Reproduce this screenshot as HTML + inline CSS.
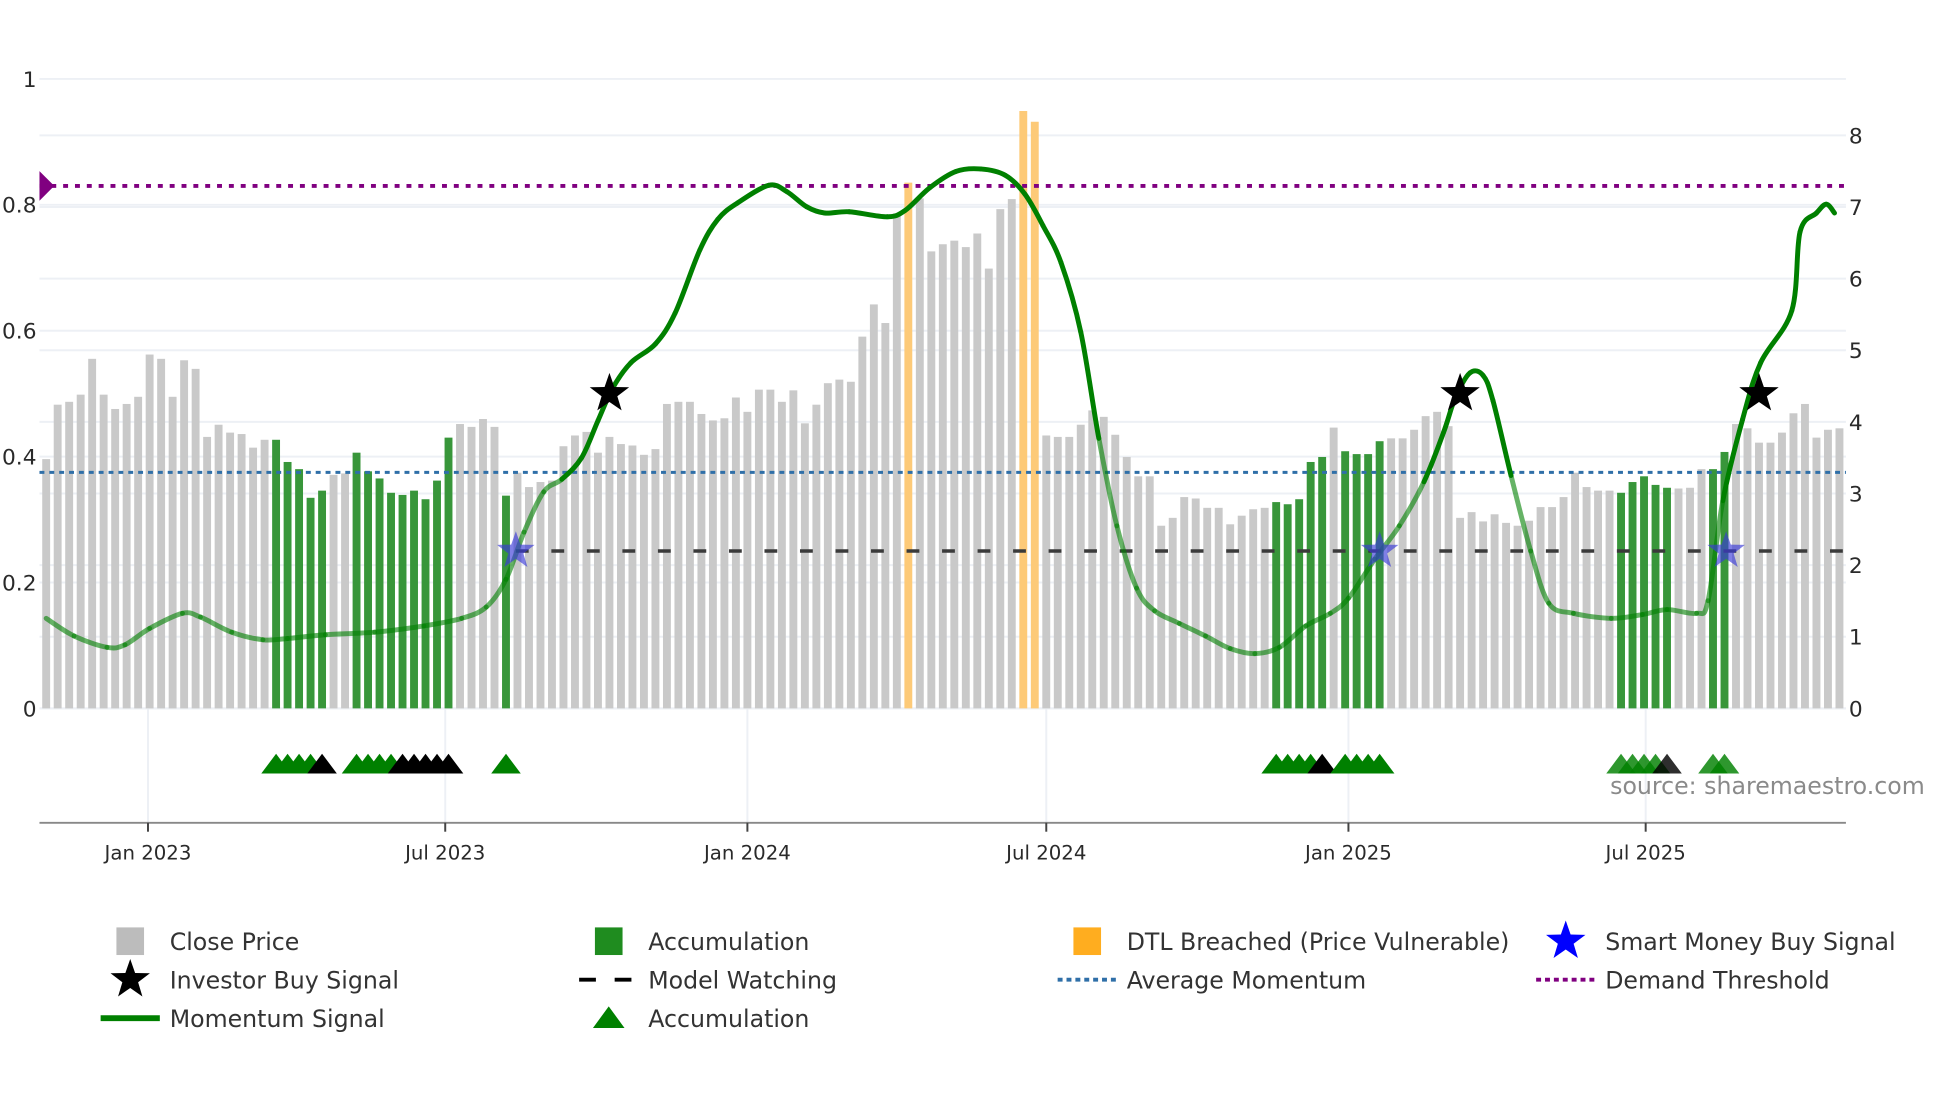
<!DOCTYPE html>
<html><head><meta charset="utf-8">
<style>
html,body{margin:0;padding:0;background:#fff;}
svg{display:block;font-family:"DejaVu Sans","Liberation Sans",sans-serif;}
</style></head>
<body>
<svg id="chart" width="1960" height="1102" viewBox="0 0 1960 1102" xmlns="http://www.w3.org/2000/svg">
<g transform="scale(0.9866)">
<g id="grid"></g>
<g id="bars"></g>
<g id="lines"></g>
<g id="marks"></g>
<g id="axes"></g>
<text x="1632" y="805" font-size="24" fill="#8a8a8a">source: sharemaestro.com</text>
<g id="legend"></g>
</g>
</svg>
<script>
// ---- data ----
const barStart = "2022-10-31"; // weekly bars
const closePrices = [3.48,4.24,4.28,4.38,4.88,4.38,4.18,4.25,4.35,4.94,4.88,4.35,4.86,4.74,3.79,3.96,3.85,3.83,3.64,3.75,
3.75,3.44,3.34,2.94,3.04,3.26,3.28,3.57,3.31,3.21,3.01,2.98,3.04,2.92,3.18,3.78,3.97,3.93,4.04,3.93,
2.97,3.29,3.09,3.16,3.18,3.66,3.81,3.86,3.57,3.79,3.69,3.67,3.54,3.62,4.25,4.28,4.28,4.11,4.02,4.05,
4.34,4.14,4.45,4.45,4.28,4.44,3.98,4.24,4.54,4.59,4.56,5.19,5.64,5.38,6.91,7.34,7.12,6.38,6.48,6.53,
6.44,6.63,6.14,6.97,7.11,8.34,8.19,3.81,3.79,3.79,3.96,4.16,4.07,3.82,3.51,3.24,3.24,2.55,2.66,2.95,
2.93,2.80,2.80,2.57,2.69,2.78,2.80,2.88,2.85,2.92,3.44,3.51,3.92,3.59,3.55,3.55,3.73,3.77,3.77,3.89,
4.08,4.14,3.94,2.66,2.74,2.61,2.71,2.59,2.55,2.62,2.81,2.81,2.95,3.29,3.09,3.04,3.04,3.01,3.16,3.24,
3.12,3.08,3.07,3.08,3.34,3.34,3.58,3.97,3.91,3.71,3.71,3.85,4.12,4.25,3.78,3.89,3.91];
// 1-based bar numbers
const accumulationBars = [21,22,23,24,25,28,29,30,31,32,33,34,35,36,41,108,109,110,111,112,114,115,116,117,138,139,140,141,142,146,147];
const dtlBreachedBars = [76,86,87];
const blackTriangleBars = [25,32,33,34,35,36,112,142];
const momDates = ["2022-10-31","2022-11-17","2022-12-07","2022-12-18","2023-01-02","2023-01-22","2023-02-02","2023-02-21","2023-03-12","2023-03-27","2023-04-19","2023-05-19","2023-06-18","2023-07-11","2023-07-26","2023-08-07","2023-08-18","2023-08-30","2023-09-10","2023-09-22","2023-10-02","2023-10-11","2023-10-22","2023-11-06","2023-11-18","2023-12-03","2023-12-14","2023-12-26","2024-01-14","2024-01-25","2024-02-06","2024-02-17","2024-03-03","2024-03-26","2024-04-06","2024-04-21","2024-05-07","2024-05-22","2024-06-06","2024-06-18","2024-06-29","2024-07-10","2024-07-22","2024-08-02","2024-08-13","2024-08-25","2024-09-05","2024-09-20","2024-10-06","2024-10-21","2024-11-05","2024-11-20","2024-12-06","2024-12-21","2025-01-01","2025-01-17","2025-02-01","2025-02-16","2025-02-28","2025-03-07","2025-03-16","2025-03-24","2025-03-30","2025-04-10","2025-04-22","2025-05-03","2025-05-18","2025-06-10","2025-06-29","2025-07-14","2025-08-01","2025-08-08","2025-08-17","2025-08-29","2025-09-09","2025-09-28","2025-10-03","2025-10-13","2025-10-19","2025-10-24"];
const momValues = [0.143,0.115,0.097,0.101,0.127,0.151,0.145,0.121,0.109,0.111,0.117,0.121,0.131,0.143,0.161,0.205,0.28,0.344,0.364,0.398,0.457,0.509,0.549,0.579,0.628,0.728,0.777,0.803,0.831,0.821,0.797,0.787,0.789,0.781,0.791,0.827,0.853,0.857,0.847,0.817,0.767,0.708,0.598,0.429,0.29,0.191,0.155,0.135,0.115,0.095,0.087,0.097,0.131,0.151,0.175,0.237,0.29,0.36,0.439,0.493,0.533,0.529,0.489,0.37,0.25,0.167,0.151,0.143,0.149,0.157,0.151,0.171,0.33,0.459,0.549,0.632,0.757,0.787,0.801,0.787];
const investorBuyDates = ["2023-10-09","2025-03-10","2025-09-08"];
const investorBuyValue = 0.5;
const smartMoneyDates = ["2023-08-13","2025-01-20","2025-08-19"];
const smartMoneyValue = 0.25;
const modelWatchingStart = "2023-08-13";
const modelWatchingValue = 0.25;
const averageMomentum = 0.375;
const demandThreshold = 0.83;
const leftTicks = [0,0.2,0.4,0.6,0.8,1];
const leftTickLabels = ["0","0.2","0.4","0.6","0.8","1"];
const rightTicks = [0,1,2,3,4,5,6,7,8];
const xTickDates = ["2023-01-01","2023-07-01","2024-01-01","2024-07-01","2025-01-01","2025-07-01"];
const xTickLabels = ["Jan 2023","Jul 2023","Jan 2024","Jul 2024","Jan 2025","Jul 2025"];

// ---- scales ----
const NS="http://www.w3.org/2000/svg";
const X0=40, X1=1871, BASE=718;
const REF=Date.UTC(2023,0,1);
function days(s){const p=s.split('-');return (Date.UTC(+p[0],+p[1]-1,+p[2])-REF)/86400000;}
function x(s){return 150+days(s)*1.6645;}
function xBar(i){return x(barStart)+i*7*1.6645;}
function yL(v){return BASE-v*638;}
function yR(v){return BASE-v*72.6;}
function el(tag,attrs,parent){const e=document.createElementNS(NS,tag);for(const k in attrs)e.setAttribute(k,attrs[k]);parent.appendChild(e);return e;}
const G=id=>document.getElementById(id);

// grid
rightTicks.forEach(t=>{const l=el('line',{x1:X0,x2:X1,y1:yR(t),y2:yR(t),stroke:'#edf0f5','stroke-width':2},G('grid'));

});
leftTicks.forEach(t=>{const l=el('line',{x1:X0,x2:X1,y1:yL(t),y2:yL(t),stroke:'#edf0f5','stroke-width':2},G('grid'));

});
xTickDates.forEach(d=>{const l=el('line',{x1:x(d),x2:x(d),y1:BASE,y2:834,stroke:'#edf0f5','stroke-width':2},G('grid'));

});

// bars
closePrices.forEach((v,i)=>{const n=i+1;let c='#c9c9c9';
 if(accumulationBars.includes(n))c='#38963a';
 if(dtlBreachedBars.includes(n))c='#fdca78';
 const cx=xBar(i);
 const r=el('rect',{x:cx-4,y:yR(v),width:8,height:BASE-yR(v),fill:c},G('bars'));
 
 
});

// lines
const avg=el('line',{x1:X0,x2:X1,y1:yL(averageMomentum),y2:yL(averageMomentum),stroke:'#2f6fa8','stroke-width':3,'stroke-dasharray':'5 5'},G('lines'));


const dem=el('line',{x1:X0,x2:X1,y1:yL(demandThreshold),y2:yL(demandThreshold),stroke:'#800080','stroke-width':4,'stroke-dasharray':'5 7'},G('lines'));


const mw=el('line',{x1:x(modelWatchingStart),x2:X1,y1:yL(modelWatchingValue),y2:yL(modelWatchingValue),stroke:'#3a3a3a','stroke-width':3.5,'stroke-dasharray':'13 23'},G('lines'));



// momentum line, smooth via catmull-rom, faded below average
const pts=momDates.map((d,i)=>[x(d),yL(momValues[i])]);
for(let i=0;i<pts.length-1;i++){
 const p0=pts[Math.max(0,i-1)],p1=pts[i],p2=pts[i+1],p3=pts[Math.min(pts.length-1,i+2)];
 const c1=[p1[0]+(p2[0]-p0[0])/6,p1[1]+(p2[1]-p0[1])/6],c2=[p2[0]-(p3[0]-p1[0])/6,p2[1]-(p3[1]-p1[1])/6];
 const low=(momValues[i]+momValues[i+1])/2<0.36;
 const p=el('path',{d:`M${p1[0]},${p1[1]}C${c1[0]},${c1[1]} ${c2[0]},${c2[1]} ${p2[0]},${p2[1]}`,fill:'none',stroke:'#008000','stroke-width':5,'stroke-linecap':'round',opacity:low?0.6:1},G('lines'));
 
 
}

function star(cx,cy,R){const r=R*0.4;let d='';for(let k=0;k<10;k++){const a=-Math.PI/2+k*Math.PI/5,rr=k%2?r:R;d+=(k?'L':'M')+(cx+rr*Math.cos(a))+','+(cy+rr*Math.sin(a));}return d+'Z';}
smartMoneyDates.forEach(d=>{const s=el('path',{d:star(x(d),yL(smartMoneyValue),20),fill:'#3a3ad8',opacity:0.65},G('marks'));
 
 });
investorBuyDates.forEach(d=>{const s=el('path',{d:star(x(d),yL(investorBuyValue),21),fill:'#000'},G('marks'));
 
 });
// purple diamond
const dm=el('path',{d:`M40,${yL(demandThreshold)-15}L55,${yL(demandThreshold)}L40,${yL(demandThreshold)+15}Z`,fill:'#800080'},G('marks'));


// triangles
accumulationBars.forEach(n=>{const cx=xBar(n-1);const blk=blackTriangleBars.includes(n);
 const late=n>=138;
 const t=el('path',{d:`M${cx-15},784L${cx},764L${cx+15},784Z`,fill:blk?'#000':'#008000',opacity:late?0.82:1},G('marks'));
 
 });

// axes
const ax=el('line',{x1:X0,x2:X1,y1:834,y2:834,stroke:'#888','stroke-width':2},G('axes'));


xTickDates.forEach((d,i)=>{const tk=el('line',{x1:x(d),x2:x(d),y1:834,y2:843,stroke:'#444','stroke-width':2},G('axes'));
 
 
 const t=el('text',{x:x(d),y:871,'font-size':20,'text-anchor':'middle',fill:'#2a2a2a'},G('axes'));t.textContent=xTickLabels[i];
 
 });
leftTicks.forEach((v,i)=>{const t=el('text',{x:37,y:yL(v)+8,'font-size':22,'text-anchor':'end',fill:'#2a2a2a'},G('axes'));t.textContent=leftTickLabels[i];
 
 });
rightTicks.forEach(v=>{const t=el('text',{x:1874,y:yR(v)+8,'font-size':22,fill:'#2a2a2a'},G('axes'));t.textContent=String(v);
 
 });

// legend
const L=G('legend');
const items=[
 [132,954,'rect','#bcbcbc','Close Price'],[617,954,'rect','#1f8c1f','Accumulation'],[1102,954,'rect','#ffad1f','DTL Breached (Price Vulnerable)'],[1587,954,'bstar','#0000ff','Smart Money Buy Signal'],
 [132,993,'kstar','#000','Investor Buy Signal'],[617,993,'dash','#000','Model Watching'],[1102,993,'dotb','#2f6fa8','Average Momentum'],[1587,993,'dotp','#800080','Demand Threshold'],
 [132,1032,'line','#008000','Momentum Signal'],[617,1032,'tri','#008000','Accumulation']];
items.forEach(([sx,sy,kind,c,label])=>{
 const g=el('g',{},L);
 
 
 if(kind==='rect')el('rect',{x:sx-14,y:sy-14,width:28,height:28,fill:c},g);
 else if(kind==='bstar')el('path',{d:star(sx,sy,21),fill:c},g);
 else if(kind==='kstar')el('path',{d:star(sx,sy,21),fill:c},g);
 else if(kind==='dash')el('line',{x1:sx-30,x2:sx+30,y1:sy,y2:sy,stroke:c,'stroke-width':4,'stroke-dasharray':'17 19'},g);
 else if(kind==='dotb'||kind==='dotp')el('line',{x1:sx-30,x2:sx+30,y1:sy,y2:sy,stroke:c,'stroke-width':4,'stroke-dasharray':'5 4'},g);
 else if(kind==='line')el('line',{x1:sx-30,x2:sx+30,y1:sy,y2:sy,stroke:c,'stroke-width':6},g);
 else if(kind==='tri')el('path',{d:`M${sx-16},${sy+10}L${sx},${sy-12}L${sx+16},${sy+10}Z`,fill:c},g);
 const t=el('text',{x:sx+40,y:sy+9,'font-size':24,fill:'#333'},g);t.textContent=label;
});
</script>
</body></html>
